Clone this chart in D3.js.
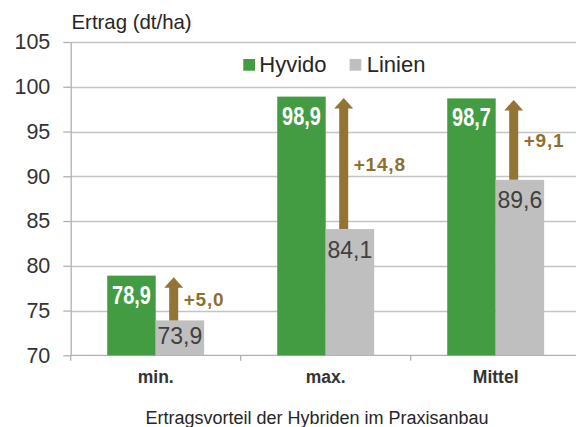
<!DOCTYPE html>
<html>
<head>
<meta charset="utf-8">
<script src="https://cdn.jsdelivr.net/npm/d3@7"></script>
<style>
  html, body { margin: 0; padding: 0; background: #ffffff; }
  svg { display: block; font-family: "Liberation Sans", Arial, sans-serif; }
</style>
</head>
<body>
<svg id="chart" width="576" height="427"></svg>
<script>
// ---- data ----
const categories = ["min.", "max.", "Mittel"];
const seriesNames = ["Hyvido", "Linien"];
const hyvido = [78.9, 98.9, 98.7];
const linien = [73.9, 84.1, 89.6];
const diffLabels = ["+5,0", "+14,8", "+9,1"];
const valueLabelsHyvido = ["78,9", "98,9", "98,7"];
const valueLabelsLinien = ["73,9", "84,1", "89,6"];
const yTicks = [70, 75, 80, 85, 90, 95, 100, 105];
const yTitle = "Ertrag (dt/ha)";
const caption = "Ertragsvorteil der Hybriden im Praxisanbau";

(function () {
// ---- styles ----
const colors = { Hyvido: "#439c41", Linien: "#bfbfbf" };
const arrowColor = "#937434";
const diffColor = "#8e6f2d";
const gridColor = "#c4c4c4";
const axisColor = "#b0b0b0";
const textColor = "#333333";

const svg = d3.select("#chart");
const pLeft = 70.7, pRight = 580.7, pTop = 42, pBottom = 355.3;

const y = d3.scaleLinear().domain([70, 105]).range([pBottom, pTop]);
const x0 = d3.scaleBand().domain(categories).range([pLeft, pRight])
  .paddingInner(0.43).paddingOuter(0.215);
const x1 = d3.scaleBand().domain(seriesNames).range([0, x0.bandwidth()]);

// gridlines
svg.append("g")
  .selectAll("line").data(yTicks.filter(d => d !== 70)).join("line")
  .attr("x1", pLeft).attr("x2", 576)
  .attr("y1", d => Math.round(y(d)) + 0.5).attr("y2", d => Math.round(y(d)) + 0.5)
  .attr("stroke", gridColor).attr("stroke-width", 1.3);

// y axis
const yAxis = d3.axisLeft(y).tickValues(yTicks).tickSizeInner(7.4).tickSizeOuter(0).tickPadding(13)
  .tickFormat(d3.format("d"));
const gy = svg.append("g").attr("transform", `translate(${pLeft},0)`).call(yAxis);
gy.select(".domain").attr("stroke", axisColor).attr("stroke-width", 1.3);
gy.selectAll(".tick line").attr("stroke", axisColor).attr("stroke-width", 1.3);
gy.selectAll(".tick text").attr("fill", "#333").attr("font-size", 21.5)
  .attr("font-family", "'Liberation Sans', Arial, sans-serif");

// x axis
const xAxis = d3.axisBottom(x0).tickSize(0).tickPadding(0);
const gx = svg.append("g").attr("transform", `translate(0,${pBottom})`).call(xAxis);
gx.select(".domain").attr("d", `M${pLeft},0H576`).attr("stroke", axisColor).attr("stroke-width", 1.3);
gx.selectAll(".tick text").attr("fill", textColor).attr("font-size", 17.5).attr("font-weight", "bold")
  .attr("font-family", "'Liberation Sans', Arial, sans-serif")
  .attr("dy", null).attr("y", 27.4);
// category boundary ticks
const boundaries = categories.map(c => x0(c) - x0.step() * x0.paddingOuter());
gx.append("g").selectAll("line").data(boundaries).join("line")
  .attr("x1", d => d).attr("x2", d => d).attr("y1", 0).attr("y2", 5.5)
  .attr("stroke", axisColor).attr("stroke-width", 1.3);

// bars
const rows = categories.map((c, i) => ({
  cat: c, Hyvido: hyvido[i], Linien: linien[i],
  hLabel: valueLabelsHyvido[i], lLabel: valueLabelsLinien[i], diff: diffLabels[i]
}));

const groups = svg.append("g").selectAll("g").data(rows).join("g")
  .attr("transform", d => `translate(${x0(d.cat)},0)`);

groups.selectAll("rect").data(d => seriesNames.map(s => ({ s, v: d[s] }))).join("rect")
  .attr("x", d => x1(d.s)).attr("width", x1.bandwidth())
  .attr("y", d => y(d.v)).attr("height", d => y(70) - y(d.v))
  .attr("fill", d => colors[d.s]);

// Hyvido labels (white, bold, condensed)
groups.append("text")
  .attr("transform", d => `translate(${x1("Hyvido") + x1.bandwidth() / 2},${y(d.Hyvido) + 28}) scale(0.8,1.05)`)
  .attr("text-anchor", "middle").attr("fill", "#ffffff")
  .attr("font-size", 25).attr("font-weight", "bold")
  .text(d => d.hLabel);

// Linien labels
groups.append("text")
  .attr("x", x1("Linien") + x1.bandwidth() / 2)
  .attr("y", d => Math.min(y(d.Linien) + 28.5, pBottom - 11.3))
  .attr("text-anchor", "middle").attr("fill", "#404040")
  .attr("font-size", 23)
  .text(d => d.lLabel);

// arrows
const shaftW = 9, headW = 19, headH = 10.5;
groups.append("path")
  .attr("d", d => {
    const cx = x1("Linien") + 18;
    const yTip = y(d.Hyvido) + 1.5;
    const yBase = y(d.Linien);
    const yHead = yTip + headH;
    return `M${cx - shaftW / 2},${yBase}V${yHead}H${cx - headW / 2}L${cx},${yTip}L${cx + headW / 2},${yHead}H${cx + shaftW / 2}V${yBase}Z`;
  })
  .attr("fill", arrowColor);

// difference labels
groups.append("text")
  .attr("x", x1("Linien") + 28)
  .attr("y", d => (y(d.Hyvido) + y(d.Linien)) / 2 + 8)
  .attr("fill", diffColor).attr("font-size", 19).attr("font-weight", "bold")
  .attr("letter-spacing", 0.8)
  .text(d => d.diff);

// legend
const legend = svg.append("g");
const legendItems = [{ s: "Hyvido", x: 243.3, tx: 259.3 }, { s: "Linien", x: 349.6, tx: 366.7 }];
legendItems.forEach(it => {
  legend.append("rect").attr("x", it.x).attr("y", 59).attr("width", 11.7).attr("height", 11.7)
    .attr("fill", colors[it.s]);
  legend.append("text").attr("x", it.tx).attr("y", 71.7).attr("font-size", 22)
    .attr("fill", "#262626").text(it.s);
});

// y title
svg.append("text").attr("x", 71.5).attr("y", 29).attr("font-size", 20.4)
  .attr("fill", "#262626").text(yTitle);

// caption
svg.append("text").attr("x", 317).attr("y", 424.3).attr("text-anchor", "middle")
  .attr("font-size", 18).attr("fill", "#262626").text(caption);
})();
</script>
</body>
</html>
